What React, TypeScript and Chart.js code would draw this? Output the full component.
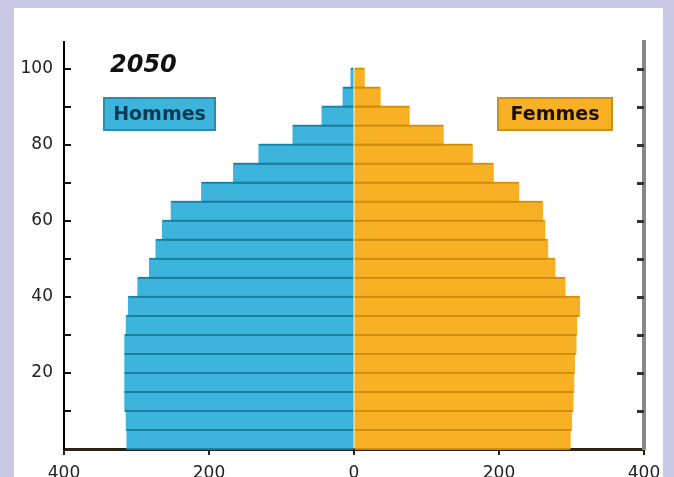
import React, { useEffect, useRef } from "react";
import { Chart, registerables } from "chart.js";

Chart.register(...registerables);

// Age groups (start of each 5-year group), bottom to top
const ageGroupStarts = [0, 5, 10, 15, 20, 25, 30, 35, 40, 45, 50, 55, 60, 65, 70, 75, 80, 85, 90, 95];
// Population (thousands) by age group
const hommes = [313, 314, 316, 316, 316, 316, 314, 311, 298, 282, 273, 264, 252, 210, 166, 131, 84, 44, 15, 4];
const femmes = [298, 300, 302, 303, 304, 306, 307, 311, 291, 277, 267, 263, 260, 227, 192, 163, 123, 76, 36, 14];
const seriesNames = ["Hommes", "Femmes"];
const xTickValues = [-400, -200, 0, 200, 400];
const yLabelValues = [20, 40, 60, 80, 100];
const chartTitle = "2050";

const BLUE = "#3cb4dc";
const BLUE_LINE = "#1a7ea2";
const ORANGE = "#f8b124";
const ORANGE_LINE = "#d08e0c";

const separatorPlugin = {
  id: "separators",
  afterDatasetsDraw(chart: any) {
    const { ctx } = chart;
    const lineColors = [BLUE_LINE, ORANGE_LINE];
    ctx.save();
    chart.data.datasets.forEach((_: any, di: number) => {
      const meta = chart.getDatasetMeta(di);
      ctx.fillStyle = lineColors[di];
      for (const el of meta.data) {
        const p = el.getProps(["x", "y", "base", "height"], true);
        const left = Math.min(p.x, p.base);
        const w = Math.abs(p.x - p.base);
        const top = p.y - p.height / 2;
        const bottom = p.y + p.height / 2;
        ctx.fillRect(left, top - 0.9, w, 1.8);
        ctx.fillRect(left, bottom - 0.9, w, 1.8);
      }
    });
    ctx.restore();
  },
};

const decorPlugin = {
  id: "decor",
  afterDraw(chart: any) {
    const { ctx, chartArea } = chart;
    const y = chart.scales.y;
    ctx.save();
    // inward ticks on left and right axes
    for (const t of y.ticks) {
      if (t.value <= 0) continue;
      const py = Math.round(y.getPixelForValue(t.value));
      ctx.fillStyle = "#111";
      ctx.fillRect(chartArea.left, py - 1, 7, 2);
      ctx.fillStyle = "#333";
      ctx.fillRect(chartArea.right - 7, py - 1, 7, 3);
    }
    // title
    ctx.fillStyle = "#111";
    ctx.font = "italic bold 24px 'DejaVu Sans'";
    ctx.textAlign = "left";
    ctx.textBaseline = "alphabetic";
    ctx.fillText(chartTitle, 110, 72);
    // legend boxes
    const boxes = [
      { x: 103, w: 113, fill: BLUE, stroke: "#2a8db0", text: seriesNames[0], color: "#0c3a55" },
      { x: 497, w: 116, fill: ORANGE, stroke: "#c8901c", text: seriesNames[1], color: "#1a1200" },
    ];
    for (const b of boxes) {
      ctx.fillStyle = b.fill;
      ctx.fillRect(b.x, 97, b.w, 34);
      ctx.strokeStyle = b.stroke;
      ctx.lineWidth = 2;
      ctx.strokeRect(b.x + 1, 98, b.w - 2, 32);
      ctx.fillStyle = b.color;
      ctx.font = "bold 19px 'DejaVu Sans'";
      ctx.textAlign = "center";
      ctx.textBaseline = "middle";
      ctx.fillText(b.text, b.x + b.w / 2, 115);
    }
    ctx.restore();
  },
};

export default function App() {
  const canvasRef = useRef<HTMLCanvasElement | null>(null);

  useEffect(() => {
    if (!canvasRef.current) return;
    const mids = ageGroupStarts.map((a) => a + 2.5);
    const chart = new Chart(canvasRef.current, {
      type: "bar",
      data: {
        datasets: [
          {
            label: seriesNames[0],
            data: mids.map((m, i) => ({ x: -hommes[i], y: m })),
            backgroundColor: BLUE,
            borderWidth: 0,
            inflateAmount: 0.6,
            categoryPercentage: 1,
            barPercentage: 1,
            yAxisID: "y",
          },
          {
            label: seriesNames[1],
            data: mids.map((m, i) => ({ x: femmes[i], y: m })),
            backgroundColor: ORANGE,
            borderWidth: 0,
            inflateAmount: 0.6,
            categoryPercentage: 1,
            barPercentage: 1,
            yAxisID: "y",
          },
        ],
      },
      options: {
        indexAxis: "y",
        responsive: false,
        animation: false,
        layout: { padding: { left: 0, top: 42, right: 0, bottom: 0 } },
        plugins: { legend: { display: false }, tooltip: { enabled: false }, title: { display: false } },
        scales: {
          x: {
            type: "linear",
            min: -400,
            max: 400,
            stacked: true,
            offset: false,
            afterBuildTicks: (scale: any) => {
              scale.ticks = xTickValues.map((v) => ({ value: v }));
            },
            ticks: {
              callback: (v: any) => String(Math.abs(Number(v))),
              color: "#222",
              font: { family: "'DejaVu Sans'", size: 17 },
              padding: 8,
              maxRotation: 0,
              autoSkip: false,
            },
            grid: { display: true, drawOnChartArea: false, drawTicks: true, tickLength: 6, color: "#222", lineWidth: 2 },
            border: { display: true, color: "#2a2418", width: 3 },
            afterFit: (scale: any) => {
              scale.height = 28;
            },
          },
          y: {
            type: "linear",
            position: "left",
            min: 0,
            max: 107,
            stacked: true,
            offset: false,
            ticks: {
              stepSize: 10,
              includeBounds: false,
              callback: (v: any) => (yLabelValues.includes(Number(v)) ? String(v) : ""),
              color: "#222",
              font: { family: "'DejaVu Sans'", size: 17 },
              padding: 11,
              autoSkip: false,
            },
            grid: { display: false, drawTicks: false },
            border: { display: true, color: "#000", width: 2 },
            afterFit: (scale: any) => {
              scale.width = 64;
            },
          },
          y2: {
            type: "linear",
            position: "right",
            min: 0,
            max: 107,
            ticks: { display: false },
            grid: { display: false, drawTicks: false },
            border: { display: true, color: "#888", width: 4 },
            afterFit: (scale: any) => {
              scale.width = 30;
            },
          },
        },
      },
      plugins: [separatorPlugin, decorPlugin],
    } as any);
    return () => chart.destroy();
  }, []);

  return (
    <div style={{ position: "fixed", left: 0, top: 0, width: 674, height: 477, background: "#c9c7e3", overflow: "hidden" }}>
      <div style={{ position: "absolute", left: 14, top: 8, width: 649, height: 469, background: "#fff" }} />
      <canvas ref={canvasRef} width={674} height={477} style={{ position: "absolute", left: 0, top: 0, width: 674, height: 477 }} />
    </div>
  );
}
